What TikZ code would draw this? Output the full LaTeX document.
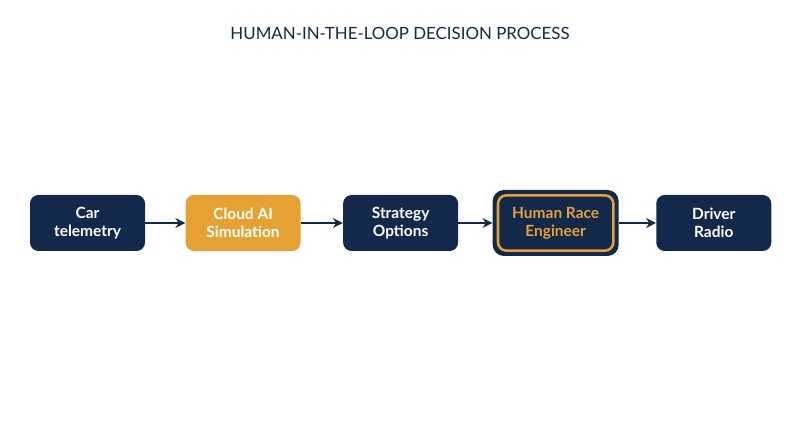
\documentclass[tikz,border=0pt]{standalone}
\usepackage{fontspec}
\setmainfont{Lato}
\usetikzlibrary{calc}
\usetikzlibrary{positioning}
\usetikzlibrary{arrows.meta}
\definecolor{navy}{HTML}{13294B}
\definecolor{gold}{HTML}{E5A233}
\tikzset{
  stage/.style={rectangle, rounded corners=6pt, minimum width=2.875cm, minimum height=1.4cm,
    fill=navy, text=white, font=\fontsize{11}{13}\selectfont\bfseries, align=center},
  link/.style={draw=navy, line width=1.2pt, -{Stealth[length=7pt,width=7pt]}}
}
\begin{document}
\begin{tikzpicture}
    \path[use as bounding box, fill=white] (0,0) rectangle (20,11.175);
    % Title.
    \node (title) at (10,10.35) {\color{navy}\fontsize{12}{14}\selectfont HUMAN-IN-THE-LOOP DECISION PROCESS};
    % Stages.
    \node[stage] (car) at (2.1875,5.6) {Car\\telemetry};
    \node[stage, fill=gold, right=1cm of car] (cloud) {Cloud AI\\Simulation};
    \node[stage, right=1.05cm of cloud] (options) {Strategy\\Options};
    \node[stage, minimum width=3.15cm, minimum height=1.65cm, rounded corners=8pt,
      text=gold, right=0.85cm of options] (engineer) {Human Race\\Engineer};
    \draw[gold, line width=1.8pt, rounded corners=6pt]
      ($(engineer.south west)+(0.14,0.14)$) rectangle ($(engineer.north east)-(0.14,0.14)$);
    \node[stage, right=0.925cm of engineer] (radio) {Driver\\Radio};
    % Arrows.
    \draw[link] (car) -- (cloud);
    \draw[link] (cloud) -- (options);
    \draw[link] (options) -- (engineer);
    \draw[link] (engineer) -- (radio);
\end{tikzpicture}
\end{document}
